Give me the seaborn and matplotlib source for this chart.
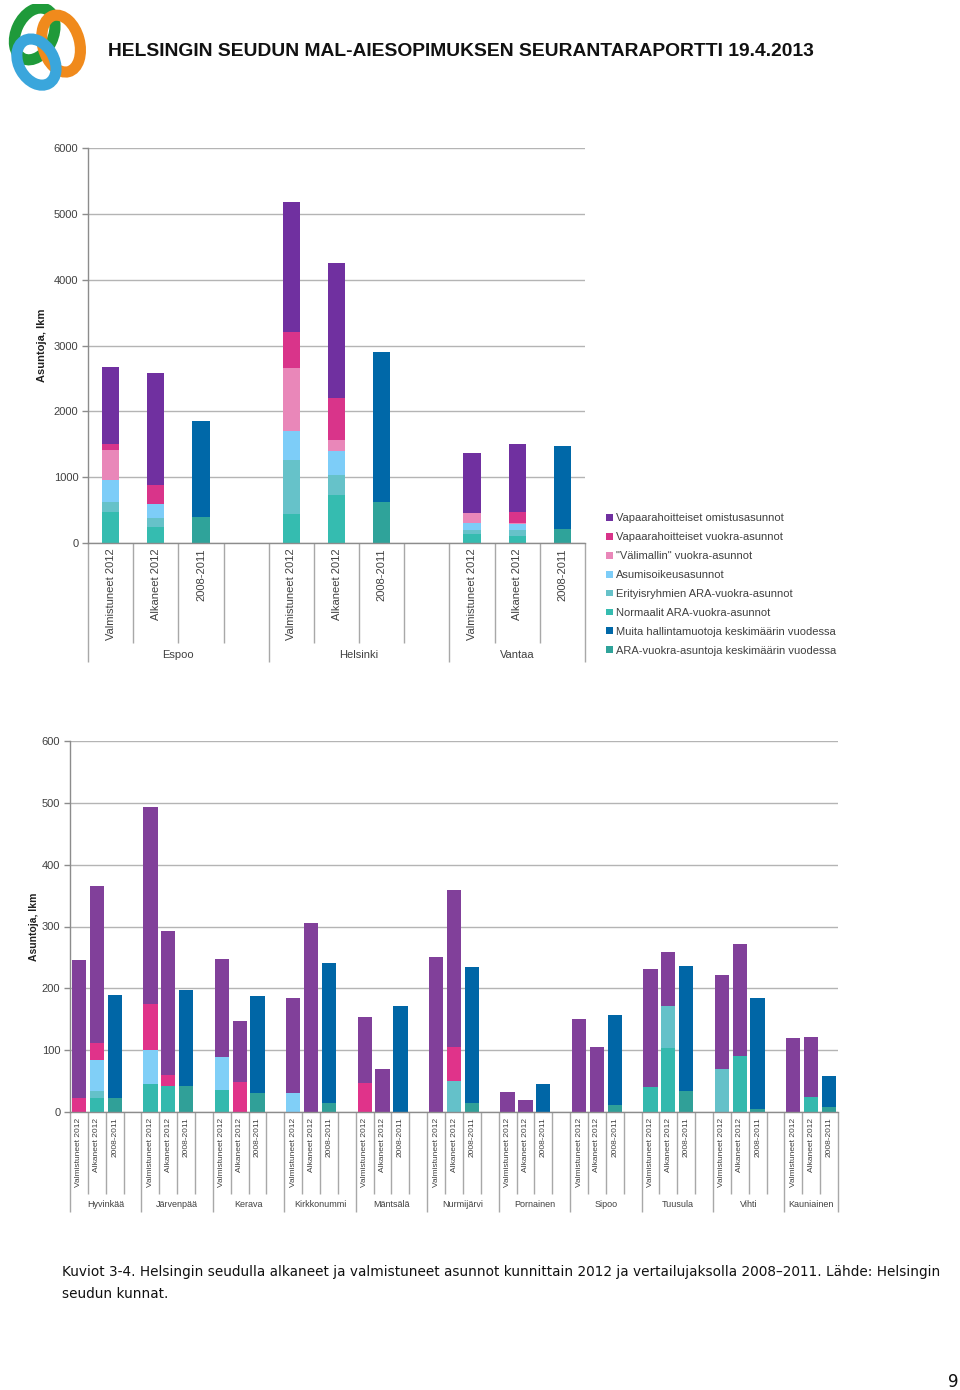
import numpy as np
import pandas as pd
import matplotlib
matplotlib.use("Agg")
import matplotlib.pyplot as plt
from matplotlib.patches import Patch, Ellipse
import seaborn as sns

# ---------------- data ----------------
series_names = [
    "Vapaarahoitteiset omistusasunnot",
    "Vapaarahoitteiset vuokra-asunnot",
    '"Välimallin" vuokra-asunnot',
    "Asumisoikeusasunnot",
    "Erityisryhmien ARA-vuokra-asunnot",
    "Normaalit ARA-vuokra-asunnot",
    "Muita hallintamuotoja keskimäärin vuodessa",
    "ARA-vuokra-asuntoja keskimäärin vuodessa",
]
bar_labels = ["Valmistuneet 2012", "Alkaneet 2012", "2008-2011"]

top_groups = ["Espoo", "Helsinki", "Vantaa"]
omistus_t = [1169, 1695, 0, 1973, 2039, 0, 913, 1026, 0]
vuokra_t = [91, 293, 0, 546, 647, 0, 0, 169, 0]
valimallin_t = [445, 0, 0, 961, 167, 0, 154, 26, 0]
asumis_t = [344, 203, 0, 430, 369, 0, 97, 82, 0]
erityis_t = [152, 146, 0, 830, 294, 0, 56, 97, 0]
normaalit_t = [465, 238, 0, 435, 733, 0, 144, 103, 0]
muita_t = [0, 0, 1461, 0, 0, 2281, 0, 0, 1247]
ara_t = [0, 0, 395, 0, 0, 627, 0, 0, 220]

bot_groups = ["Hyvinkää", "Järvenpää", "Kerava", "Kirkkonummi", "Mäntsälä",
              "Nurmijärvi", "Pornainen", "Sipoo", "Tuusula", "Vihti", "Kauniainen"]
omistus_b = [223, 253, 0, 318, 232, 0, 158, 98, 0, 153, 305, 0, 106, 69, 0,
             250, 254, 0, 32, 19, 0, 150, 105, 0, 192, 87, 0, 151, 181, 0, 119, 98, 0]
vuokra_b = [23, 28, 0, 75, 18, 0, 0, 49, 0, 0, 0, 0, 47, 0, 0,
            0, 55, 0, 0, 0, 0, 0, 0, 0, 0, 0, 0, 0, 0, 0, 0, 0, 0]
valimallin_b = [0] * 33
asumis_b = [0, 50, 0, 54, 0, 0, 54, 0, 0, 31, 0, 0, 0, 0, 0,
            0, 0, 0, 0, 0, 0, 0, 0, 0, 0, 0, 0, 0, 0, 0, 0, 0, 0]
erityis_b = [0, 11, 0, 0, 0, 0, 0, 0, 0, 0, 0, 0, 0, 0, 0,
             0, 50, 0, 0, 0, 0, 0, 0, 0, 0, 69, 0, 70, 0, 0, 0, 0, 0]
normaalit_b = [0, 23, 0, 46, 42, 0, 35, 0, 0, 0, 0, 0, 0, 0, 0,
               0, 0, 0, 0, 0, 0, 0, 0, 0, 40, 103, 0, 0, 90, 0, 0, 24, 0]
muita_b = [0, 0, 168, 0, 0, 155, 0, 0, 156, 0, 0, 227, 0, 0, 171,
           0, 0, 220, 0, 0, 45, 0, 0, 146, 0, 0, 202, 0, 0, 179, 0, 0, 50]
ara_b = [0, 0, 22, 0, 0, 42, 0, 0, 31, 0, 0, 14, 0, 0, 0,
         0, 0, 14, 0, 0, 0, 0, 0, 11, 0, 0, 34, 0, 0, 5, 0, 0, 8]

# colours (same order as series_names)
colors_top = ["#7030a0", "#d9348a", "#e987b9", "#7dcdf8", "#66c2c9", "#35bcb0", "#0068a8", "#2fa39a"]
colors_bot = ["#81409a", "#e0338a", "#e987b9", "#80cff7", "#64c1c9", "#34b9ae", "#0066a6", "#30a098"]

# ---------------- style ----------------
sns.set_theme(style="white")
plt.rcParams["font.family"] = ["Liberation Sans", "DejaVu Sans"]
TXT = "#404040"
GRID = "#b4b4b4"

fig = plt.figure(figsize=(9.6, 13.9), dpi=100)


def build_frame(groups, values):
    pos = []
    for g in range(len(groups)):
        for i in range(3):
            pos.append(g * 4 + i)
    df = pd.DataFrame({"pos": pos})
    # stacking order bottom -> top
    order = [7, 5, 4, 3, 2, 1, 0, 6]
    cum = np.zeros(len(pos))
    cols = []
    for k in order:
        cum = cum + np.asarray(values[k], dtype=float)
        df["cum_%d" % k] = cum.copy()
        cols.append(k)
    return df, cols


def draw_chart(ax, groups, values, colors, width, ymax, ystep, fs_tick, fs_cat, fs_grp,
               inner_depth, group_depth, grp_y, ylabel_fs):
    df, order = build_frame(groups, values)
    # draw cumulative bars from the top of the stack downwards
    for k in reversed(order):
        sns.barplot(data=df, x="pos", y="cum_%d" % k, native_scale=True, orient="x",
                    color=colors[k], saturation=1, width=width, errorbar=None,
                    linewidth=0, ax=ax)
    nslots = len(groups) * 4 - 1
    ax.set_xlim(-0.5, nslots - 0.5)
    ax.set_ylim(0, ymax)
    ax.set_yticks(np.arange(0, ymax + 1, ystep))
    ax.yaxis.grid(True, color=GRID, linewidth=1)
    ax.set_axisbelow(True)
    for s in ["top", "right"]:
        ax.spines[s].set_visible(False)
    for s in ["left", "bottom"]:
        ax.spines[s].set_color("#8c8c8c")
        ax.spines[s].set_linewidth(1)
    ax.tick_params(axis="y", which="both", left=True, length=4, width=1, color="#8c8c8c",
                   labelsize=fs_tick, labelcolor=TXT, pad=3)
    ax.set_xticks(df["pos"].values)
    ax.set_xticklabels(bar_labels * len(groups), rotation=90, fontsize=fs_cat, color=TXT)
    ax.tick_params(axis="x", length=0, pad=4)
    ax.set_xlabel("")
    ax.set_ylabel("Asuntoja, lkm", fontsize=ylabel_fs, fontweight="bold", color="#202020")
    tr = ax.get_xaxis_transform()
    inner = [x - 0.5 for x in range(nslots + 1) if x % 4 != 0 and x != nslots]
    ax.vlines(inner, -inner_depth, 0, transform=tr, clip_on=False, color="#a8a8a8", lw=1)
    gl = [g * 4 - 0.5 for g in range(len(groups))] + [nslots - 0.5]
    ax.vlines(gl, -group_depth, 0, transform=tr, clip_on=False, color="#a8a8a8", lw=1)
    for g, name in enumerate(groups):
        left = g * 4 - 0.5
        right = min(g * 4 + 3.5, nslots - 0.5)
        ax.text((left + right) / 2, -grp_y, name, transform=tr, ha="center", va="center",
                fontsize=fs_grp, color=TXT)


vals_top = [omistus_t, vuokra_t, valimallin_t, asumis_t, erityis_t, normaalit_t, muita_t, ara_t]
vals_bot = [omistus_b, vuokra_b, valimallin_b, asumis_b, erityis_b, normaalit_b, muita_b, ara_b]

W, H = 960.0, 1390.0
ax1 = fig.add_axes([88 / W, 1 - 543 / H, 497 / W, 395 / H])
draw_chart(ax1, top_groups, vals_top, colors_top, 0.38, 6000, 1000, 8, 8, 8,
           0.253, 0.30, 0.284, 8)
ax1.yaxis.set_label_coords(-0.083, 0.5)

ax2 = fig.add_axes([70 / W, 1 - 1112 / H, 768 / W, 371 / H])
draw_chart(ax2, bot_groups, vals_bot, colors_bot, 0.8, 600, 100, 8, 6, 6.5,
           0.221, 0.27, 0.248, 7.5)
ax2.yaxis.set_label_coords(-0.041, 0.5)

# legend
handles = [Patch(facecolor=colors_top[k], edgecolor="none", label=series_names[k]) for k in range(8)]
fig.legend(handles=handles, loc="upper left", bbox_to_anchor=(602 / W, 1 - 509 / H),
           frameon=False, fontsize=8, handlelength=0.55, handleheight=0.55,
           handletextpad=0.3, labelspacing=0.80, borderaxespad=0, labelcolor=TXT)

# logo
lax = fig.add_axes([3 / W, 1 - 92 / H, 88 / W, 88 / H])
lax.set_xlim(0, 1)
lax.set_ylim(0, 1)
lax.axis("off")
lax.add_patch(Ellipse((0.36, 0.66), 0.42, 0.62, angle=-25, fill=False, lw=8, edgecolor="#1f9a3a"))
lax.add_patch(Ellipse((0.66, 0.55), 0.42, 0.66, angle=15, fill=False, lw=8, edgecolor="#f08a1c"))
lax.add_patch(Ellipse((0.38, 0.34), 0.40, 0.56, angle=30, fill=False, lw=8, edgecolor="#3aa6dc"))

# header
fig.text(108 / W, 1 - 51 / H, "HELSINGIN SEUDUN MAL-AIESOPIMUKSEN SEURANTARAPORTTI 19.4.2013",
         fontsize=13.9, fontweight="bold", color="#111111", va="center", ha="left")

# caption
cap_font = ["DejaVu Sans"]
fig.text(62 / W, 1 - 1272 / H,
         "Kuviot 3-4. Helsingin seudulla alkaneet ja valmistuneet asunnot kunnittain 2012 ja vertailujaksolla 2008–2011. Lähde: Helsingin",
         fontsize=9.78, color="#111111", va="center", ha="left", family=cap_font)
fig.text(62 / W, 1 - 1294 / H, "seudun kunnat.", fontsize=9.78, color="#111111",
         va="center", ha="left", family=cap_font)
fig.text(953 / W, 1 - 1382 / H, "9", fontsize=12, color="#111111", va="center", ha="center",
         family=cap_font)

fig.savefig("out.png", dpi=100)
